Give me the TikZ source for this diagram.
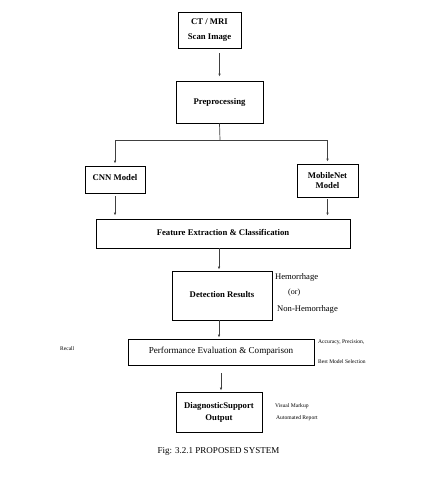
\documentclass[tikz,border=0pt]{standalone}
\usepackage{fontspec}
\setmainfont{Liberation Serif}
\usetikzlibrary{arrows.meta}
\begin{document}
\begin{tikzpicture}[x=1pt,y=-1pt,
  box/.style={draw=black,line width=0.9pt,inner sep=0pt,align=center,font=\fontsize{8.7}{10.5}\selectfont\bfseries},
  arr/.style={draw=black!75,line width=0.7pt,-{Latex[length=3pt,width=2.6pt]}},
  lin/.style={draw=black!75,line width=0.7pt},
  side/.style={anchor=west,inner sep=0pt,font=\fontsize{8.6}{10}\selectfont},
  tiny/.style={anchor=west,inner sep=0pt,font=\fontsize{5.6}{7}\selectfont}]
\useasboundingbox[fill=white] (0,0) rectangle (430,493);
\node[box,minimum width=63pt,minimum height=36pt] (ct) at (209.5,30) {CT / MRI\\[5pt]Scan Image};
\node[box,minimum width=87pt,minimum height=42pt] (pre) at (219.5,102) {\raisebox{-2pt}{Preprocessing}};
\node[box,minimum width=60pt,minimum height=27pt] (cnn) at (115,179.5) {\raisebox{3.5pt}{CNN Model}};
\node[box,minimum width=61pt,minimum height=33pt] (mob) at (327.5,180.5) {MobileNet\\Model};
\node[box,minimum width=254pt,minimum height=29pt] (fe) at (223,233.5) {\raisebox{1.5pt}{Feature Extraction \& Classification}};
\node[box,minimum width=100pt,minimum height=49pt] (det) at (222,295.5) {\raisebox{2.5pt}{Detection Results}};
\node[box,minimum width=186pt,minimum height=26pt,font=\fontsize{9.1}{11}\selectfont] (perf) at (221,352) {\raisebox{3pt}{Performance Evaluation \& Comparison}};
\node[box,minimum width=86pt,minimum height=40pt,font=\fontsize{8.7}{12}\selectfont\bfseries] (diag) at (219,412) {DiagnosticSupport\\Output};
\coordinate (split) at (220,140);
\draw[arr,shorten <=5pt,shorten >=4pt] (pre.north |- ct.south) -- (pre.north);
\draw[lin] (pre.south) -- (split);
\draw[arr,shorten >=2pt] (split) -| (cnn.north);
\draw[arr,shorten >=2pt] (split) -| (mob.north);
\draw[arr,shorten <=3pt,shorten >=3pt] (cnn.south) -- (cnn.south |- fe.north);
\draw[arr,shorten <=2pt,shorten >=3pt] (mob.south) -- (mob.south |- fe.north);
\draw[arr,shorten >=1pt] ([xshift=-3pt]det.north |- fe.south) -- ([xshift=-3pt]det.north);
\draw[arr,shorten >=1pt] ([xshift=-3pt]det.south) -- ([xshift=-3pt]det.south |- perf.north);
\draw[arr,shorten <=8pt,shorten >=1pt] (perf.south) -- (perf.south |- diag.north);
\node[side] (hem) at (275,277) {Hemorrhage};
\node[side,font=\fontsize{8}{10}\selectfont] (or) at (288,293) {(or)};
\node[side] (nonhem) at (277,309) {Non-Hemorrhage};
\node[tiny] (acc) at (318,342) {Accuracy, Precision,};
\node[tiny,font=\fontsize{5.5}{7}\selectfont] (best) at (318,362) {Best Model Selection};
\node[tiny,font=\fontsize{5.5}{7}\selectfont] (recall) at (60,349) {Recall};
\node[tiny] (vis) at (275,406) {Visual Markup};
\node[tiny] (auto) at (276,418) {Automated Report};
\node[inner sep=0pt,font=\fontsize{9}{11}\selectfont] (cap) at (218.5,451) {Fig: 3.2.1 PROPOSED SYSTEM};
\end{tikzpicture}
\end{document}
